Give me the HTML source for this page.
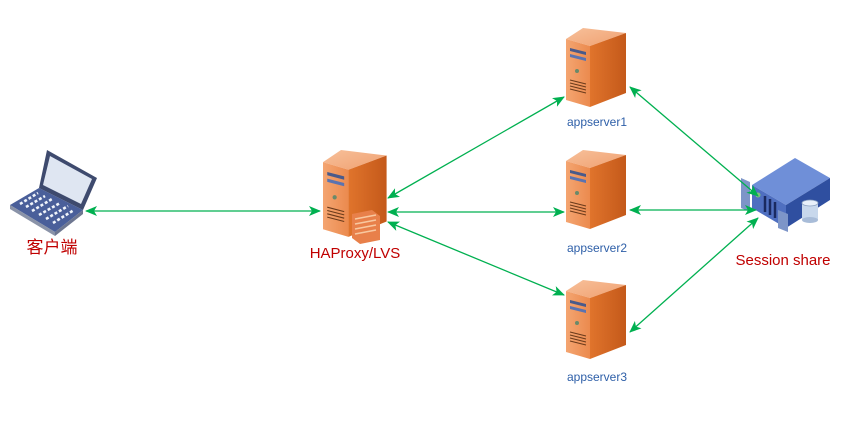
<!DOCTYPE html>
<html><head><meta charset="utf-8"><style>
html,body{margin:0;padding:0;background:#fff;}
svg{display:block}
</style></head><body>
<svg width="849" height="442" viewBox="0 0 849 442" xmlns="http://www.w3.org/2000/svg">
<defs>
<linearGradient id="fr" x1="0" y1="0" x2="1" y2="0"><stop offset="0" stop-color="#f4a571"/><stop offset="1" stop-color="#eb8a4e"/></linearGradient>
<linearGradient id="sd" x1="0" y1="0" x2="1" y2="0"><stop offset="0" stop-color="#e0742c"/><stop offset="1" stop-color="#c4591a"/></linearGradient>
<linearGradient id="tp" x1="0" y1="0" x2="1" y2="1"><stop offset="0" stop-color="#f7c09a"/><stop offset="1" stop-color="#f0a070"/></linearGradient>
<g id="srv">
<polygon points="0,11 17,0 60,5 24,18" fill="url(#tp)"/>
<polygon points="24,18 60,5 60,65 24,79" fill="url(#sd)"/>
<polygon points="0,11 24,18 24,79 0,72" fill="url(#fr)"/>
<polygon points="4,20 20,24 20,27 4,23" fill="#4a5a8a"/>
<polygon points="4,26 20,30 20,33 4,29" fill="#5b73b0"/>
<circle cx="11" cy="43" r="2" fill="#6a8a6a"/>
<path d="M4,52 L20,56 M4,55 L20,59 M4,58 L20,62 M4,61 L20,65" stroke="#6a3a1a" stroke-width="1"/>
</g>
<marker id="ah" markerWidth="12" markerHeight="10" refX="11" refY="5" orient="auto-start-reverse" markerUnits="userSpaceOnUse"><path d="M0,0 L12,5 L0,10 L3,5 z" fill="#00b050"/></marker>
</defs>

<!-- laptop -->
<polygon points="10,205 39,188 83,210 55,232" fill="#4a5f9a"/>
<polygon points="10,205 55,232 55,236 10,209" fill="#8a93a8"/>
<polygon points="55,232 83,210 83,214 55,236" fill="#6d7690"/>
<polygon points="47,150 97,178 83,210 39,188" fill="#3e4a6e"/>
<polygon points="50,156 92,179 81,204 43,185" fill="#dfe6f2"/>
<g stroke="#f0f4fa" stroke-width="2.6" stroke-dasharray="3 2">
<line x1="20" y1="204" x2="38" y2="193"/>
<line x1="26" y1="207" x2="45" y2="196"/>
<line x1="32" y1="211" x2="52" y2="199"/>
<line x1="39" y1="215" x2="60" y2="203"/>
<line x1="46" y1="219" x2="68" y2="206"/>
<line x1="53" y1="223" x2="74" y2="210"/>
</g>

<!-- HAProxy -->
<use href="#srv" transform="translate(323,150) scale(1.06,1.1)"/>
<polygon points="352,214 372,210 380,216 380,240 360,244 352,238" fill="#e8804a"/>
<path d="M355,219 L376,215 M355,224 L376,220 M355,229 L376,225 M355,234 L376,230" stroke="#f8c8a0" stroke-width="1.5"/>

<!-- app servers -->
<use href="#srv" transform="translate(566,28)"/>
<use href="#srv" transform="translate(566,150)"/>
<use href="#srv" transform="translate(566,280)"/>

<!-- session share -->
<polygon points="752,185 795,158 830,178 786,205" fill="#6f8fd8"/>
<polygon points="786,205 830,178 830,200 786,228" fill="#2f4fa0"/>
<polygon points="752,185 786,205 786,228 752,208" fill="#4f6fc0"/>
<polygon points="741,178 750,182 750,212 741,208" fill="#7d95c8"/>
<polygon points="778,210 788,214 788,232 778,228" fill="#7d95c8"/>
<path d="M765,196 v16 M770,199 v16 M775,202 v16" stroke="#1a2a60" stroke-width="2.5"/>
<circle cx="758" cy="195" r="2.5" fill="#7cc07c"/>
<rect x="802" y="203" width="16" height="17" fill="#c8d8ec"/>
<ellipse cx="810" cy="220" rx="8" ry="3" fill="#a8bcd8"/>
<ellipse cx="810" cy="203" rx="8" ry="3" fill="#e8f0fa" stroke="#8aa0c0" stroke-width="0.8"/>

<!-- connectors -->
<g stroke="#00b050" stroke-width="1.3" fill="none" marker-start="url(#ah)" marker-end="url(#ah)">
<line x1="86" y1="211" x2="320" y2="211"/>
<line x1="388" y1="198" x2="564" y2="97"/>
<line x1="388" y1="212" x2="564" y2="212"/>
<line x1="388" y1="222" x2="564" y2="295"/>
<line x1="630" y1="87" x2="758" y2="196"/>
<line x1="630" y1="210" x2="756" y2="210"/>
<line x1="630" y1="332" x2="758" y2="218"/>
</g>

<!-- labels -->
<g font-family="Liberation Sans, Noto Sans CJK SC, sans-serif" text-anchor="middle">
<text x="52" y="253" font-size="17" fill="#c00000">客户端</text>
<text x="355" y="258" font-size="15" fill="#c00000">HAProxy/LVS</text>
<text x="597" y="126" font-size="12" fill="#2e5fa8">appserver1</text>
<text x="597" y="252" font-size="12" fill="#2e5fa8">appserver2</text>
<text x="597" y="381" font-size="12" fill="#2e5fa8">appserver3</text>
<text x="783" y="265" font-size="15" fill="#c00000">Session share</text>
</g>
</svg>
</body></html>
